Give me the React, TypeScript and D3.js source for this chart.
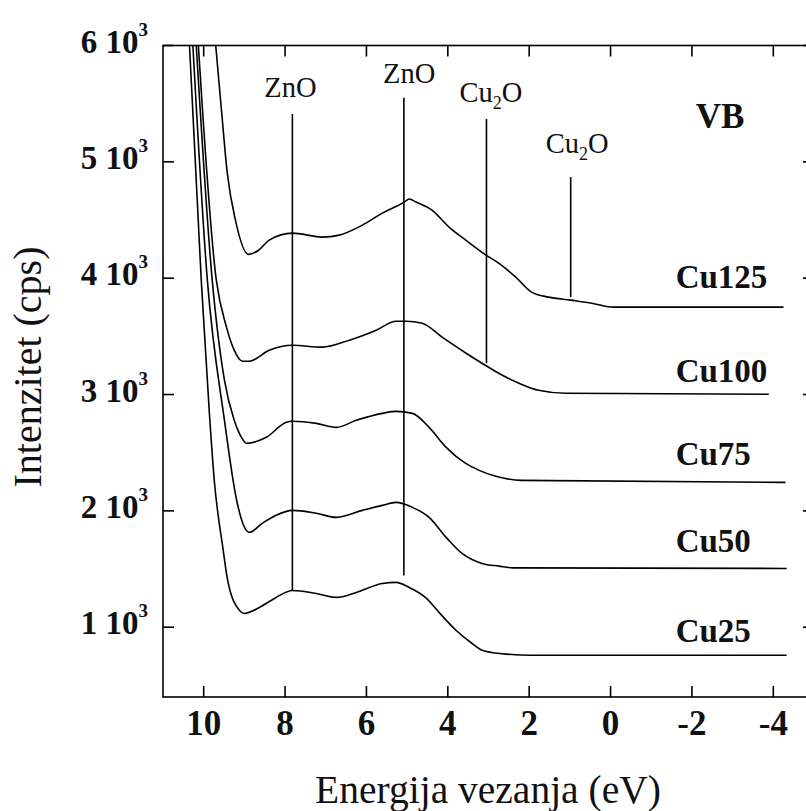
import React from "react";
import * as d3 from "d3";

// ---- data (binding energy eV, intensity cps) ----
const cu25: [number, number][] = [
  [10.38, 6220], [10.06, 3983], [9.86, 2839], [9.74, 2263], [9.53, 1686], [9.41, 1402],
  [9.12, 1144], [9.0, 1118], [8.63, 1170], [8.22, 1256], [7.82, 1316], [7.23, 1290],
  [6.74, 1256], [6.25, 1299], [5.61, 1376], [5.27, 1385], [4.95, 1342], [4.53, 1250],
  [4.21, 1125], [3.8, 974], [3.41, 862], [3.16, 802], [2.67, 772], [1.93, 759], [-4.33, 759],
];
const cu50: [number, number][] = [
  [10.3, 6220], [9.91, 3983], [9.49, 2779], [9.19, 2091], [9.02, 1876], [8.88, 1815],
  [8.56, 1893], [8.22, 1962], [7.82, 2004], [7.23, 1979], [6.74, 1944], [6.1, 2004],
  [5.61, 2047], [5.27, 2073], [4.87, 2030], [4.46, 1944], [4.04, 1772], [3.65, 1634],
  [3.16, 1548], [2.74, 1525], [2.4, 1510], [-4.33, 1505],
];
const cu75: [number, number][] = [
  [10.22, 6220], [9.79, 3983], [9.49, 3123], [9.25, 2779], [9.1, 2649], [8.95, 2581],
  [8.46, 2632], [7.97, 2761], [7.82, 2770], [7.23, 2752], [6.74, 2718], [6.25, 2778],
  [5.61, 2838], [5.27, 2855], [4.87, 2838], [4.46, 2718], [4.04, 2546], [3.56, 2408],
  [3.23, 2348], [2.82, 2297], [2.18, 2262], [-4.3, 2245],
];
const cu100: [number, number][] = [
  [10.17, 6220], [9.69, 3983], [9.44, 3579], [9.25, 3381], [9.05, 3286], [8.88, 3286],
  [8.39, 3381], [7.82, 3424], [7.09, 3407], [6.42, 3467], [5.76, 3553], [5.27, 3630],
  [5.02, 3630], [4.63, 3613], [4.14, 3493], [3.55, 3355], [3.16, 3269], [2.75, 3183],
  [2.25, 3097], [1.77, 3037], [1.1, 3011], [-3.89, 3002],
];
const cu125: [number, number][] = [
  [9.76, 6220], [9.57, 5471], [9.42, 4903], [9.22, 4499], [8.9, 4205], [8.65, 4240],
  [8.39, 4327], [7.82, 4387], [7.08, 4353], [6.67, 4370], [6.1, 4456], [5.61, 4559],
  [5.07, 4654], [4.95, 4680], [4.78, 4654], [4.39, 4585], [3.97, 4439], [3.56, 4327],
  [3.06, 4198], [2.75, 4129], [2.33, 4009], [1.94, 3880], [1.52, 3837], [0.98, 3811],
  [0.46, 3785], [-0.08, 3751], [-4.25, 3751],
];

const seriesNames = ["Cu25", "Cu50", "Cu75", "Cu100", "Cu125"];
const seriesData = [cu25, cu50, cu75, cu100, cu125];
const seriesLabelE = [-1.6, -1.6, -1.6, -1.6, -1.6];
const seriesLabelI = [870, 1644, 2393, 3107, 3915];

const xTicks = [10, 8, 6, 4, 2, 0, -2, -4];
const yTicks = [1000, 2000, 3000, 4000, 5000, 6000];
const yTickMantissa = ["1", "2", "3", "4", "5", "6"];

// annotation marker lines
const markerNames = ["ZnO", "ZnO", "Cu2O", "Cu2O"];
const markerE = [7.82, 5.08, 3.05, 0.98];
const markerTop = [5411, 5551, 5368, 4869];
const markerBottom = [1316, 1445, 3269, 3837];
const markerLabelE = [7.87, 4.95, 2.94, 0.82];
const markerLabelI = [5557, 5677, 5514, 5075];

const panelTitle = "VB";
const panelTitleE = -2.69;
const panelTitleI = 5290;

const xTitle = "Energija vezanja (eV)";
const yTitle = "Intenzitet (cps)";

const FONT = '"Liberation Serif", "DejaVu Serif", serif';

export default function App() {
  const W = 806;
  const H = 811;
  const left = 163, right = 814, top = 45.5, bottom = 697;
  const x = d3.scaleLinear().domain([11, -5]).range([left, right]);
  const y = d3.scaleLinear().domain([400, 6000]).range([bottom, top]);
  const line = d3
    .line<[number, number]>()
    .x((d) => x(d[0]))
    .y((d) => y(d[1]))
    .curve(d3.curveMonotoneX);
  const tickLen = 11;
  const sw = 1.6;
  const ts = { fontFamily: FONT };

  return (
    <svg
      width={W}
      height={H}
      style={{ position: "absolute", left: 0, top: 0, background: "#fff", fontFamily: FONT }}
    >
      <defs>
        <clipPath id="plotclip">
          <rect x={left} y={top} width={right - left} height={bottom - top} />
        </clipPath>
      </defs>
      <rect x={0} y={0} width={W} height={H} fill="#fff" />

      {/* frame */}
      <rect x={left} y={top} width={right - left} height={bottom - top} fill="none" stroke="#000" strokeWidth={sw} />

      {/* x ticks */}
      {xTicks.map((t) => (
        <g key={"xt" + t}>
          <line x1={x(t)} x2={x(t)} y1={bottom} y2={bottom - tickLen} stroke="#000" strokeWidth={sw} />
          <line x1={x(t)} x2={x(t)} y1={top} y2={top + tickLen} stroke="#000" strokeWidth={sw} />
          <text x={x(t)} y={bottom + 38} textAnchor="middle" fontSize={35} fontWeight="bold" fill="#111" style={ts}>
            {t}
          </text>
        </g>
      ))}

      {/* y ticks */}
      {yTicks.map((t, i) => (
        <g key={"yt" + t}>
          <line x1={left} x2={left + tickLen} y1={y(t)} y2={y(t)} stroke="#000" strokeWidth={sw} />
          <line x1={right} x2={right - tickLen} y1={y(t)} y2={y(t)} stroke="#000" strokeWidth={sw} />
          <text x={148} y={y(t) + 7} textAnchor="end" fontSize={33} fontWeight="bold" fill="#111" style={ts}>
            <tspan>{yTickMantissa[i] + " 10"}</tspan>
            <tspan dy={-17} fontSize={19}>3</tspan>
          </text>
        </g>
      ))}

      {/* curves */}
      <g clipPath="url(#plotclip)">
        {seriesData.map((s, i) => (
          <path key={seriesNames[i]} d={line(s) || ""} fill="none" stroke="#000" strokeWidth={1.6} />
        ))}
      </g>

      {/* marker lines */}
      {markerE.map((e, i) => (
        <line
          key={"m" + i}
          x1={x(e)}
          x2={x(e)}
          y1={y(markerTop[i])}
          y2={y(markerBottom[i])}
          stroke="#000"
          strokeWidth={1.6}
        />
      ))}
      {markerNames.map((n, i) => (
        <text
          key={"ml" + i}
          x={x(markerLabelE[i])}
          y={y(markerLabelI[i])}
          textAnchor="middle"
          fontSize={28.5}
          fill="#111"
          style={ts}
        >
          {n === "Cu2O" ? (
            <>
              <tspan>Cu</tspan>
              <tspan dy={7} fontSize={18}>2</tspan>
              <tspan dy={-7}>O</tspan>
            </>
          ) : (
            n
          )}
        </text>
      ))}

      {/* series labels */}
      {seriesNames.map((n, i) => (
        <text
          key={"sl" + n}
          x={x(seriesLabelE[i])}
          y={y(seriesLabelI[i])}
          fontSize={33}
          fontWeight="bold"
          fill="#111"
          style={ts}
        >
          {n}
        </text>
      ))}

      <text x={x(panelTitleE)} y={y(panelTitleI)} textAnchor="middle" fontSize={35} fontWeight="bold" fill="#111" style={ts}>
        {panelTitle}
      </text>

      {/* axis titles */}
      <text x={488} y={803} textAnchor="middle" fontSize={39.5} fill="#111" style={ts}>
        {xTitle}
      </text>
      <text
        transform={`translate(41, 367) rotate(-90)`}
        textAnchor="middle"
        fontSize={40}
        fill="#111"
        style={ts}
      >
        {yTitle}
      </text>
    </svg>
  );
}
